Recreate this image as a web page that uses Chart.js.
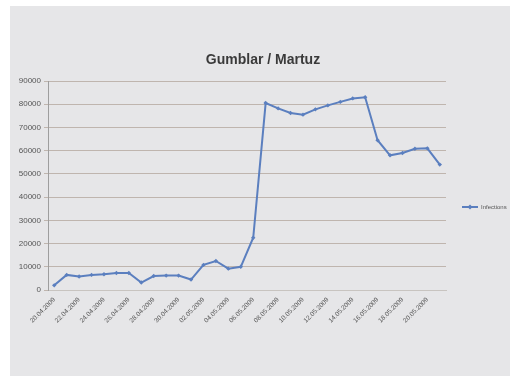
<!DOCTYPE html>
<html>
<head>
<meta charset="utf-8">
<script src="https://cdn.jsdelivr.net/npm/chart.js@4/dist/chart.umd.min.js"></script>
<style>
  html, body { margin: 0; padding: 0; background: #ffffff; }
  #wrap { position: relative; width: 513px; height: 376px; }
  canvas { display: block; }
</style>
</head>
<body>
<div id="wrap"><canvas id="lineChart" width="513" height="376"></canvas></div>
<script>
// chart data
var days = [
  '20.04.2009', '21.04.2009', '22.04.2009', '23.04.2009', '24.04.2009', '25.04.2009',
  '26.04.2009', '27.04.2009', '28.04.2009', '29.04.2009', '30.04.2009', '01.05.2009',
  '02.05.2009', '03.05.2009', '04.05.2009', '05.05.2009', '06.05.2009', '07.05.2009',
  '08.05.2009', '09.05.2009', '10.05.2009', '11.05.2009', '12.05.2009', '13.05.2009',
  '14.05.2009', '15.05.2009', '16.05.2009', '17.05.2009', '18.05.2009', '19.05.2009',
  '20.05.2009', '21.05.2009'
];
var infections = [
  2000, 6500, 5800, 6500, 6800, 7300, 7300, 3200, 6000, 6200, 6200, 4500,
  10800, 12500, 9200, 10000, 22500, 80500, 78200, 76200, 75500, 77800, 79500, 81000,
  82500, 83000, 64500, 58000, 59000, 60800, 61000, 54000
];
var yTicks = [0, 10000, 20000, 30000, 40000, 50000, 60000, 70000, 80000, 90000];
var seriesName = 'Infections';
var chartTitle = 'Gumblar / Martuz';

var lineColor = '#5b7fbf';

// grey frame behind the chart, title on top
var framePlugin = {
  id: 'frame',
  beforeDraw: function (chart) {
    var ctx = chart.ctx;
    ctx.save();
    ctx.fillStyle = '#e6e6e8';
    ctx.fillRect(10, 6, 500, 370);
    ctx.fillStyle = '#3a3a3a';
    ctx.font = 'bold 14px "Liberation Sans"';
    ctx.textAlign = 'center';
    ctx.textBaseline = 'middle';
    ctx.fillText(chartTitle, 263, 60);
    ctx.restore();
  }
};

// small Excel style legend to the right of the plot
var legendPlugin = {
  id: 'sideLegend',
  afterDraw: function (chart) {
    var ctx = chart.ctx;
    var ds = chart.data.datasets[0];
    var x = 462, y = 207;
    ctx.save();
    ctx.strokeStyle = ds.borderColor;
    ctx.lineWidth = 2;
    ctx.beginPath();
    ctx.moveTo(x, y);
    ctx.lineTo(x + 16, y);
    ctx.stroke();
    ctx.fillStyle = ds.borderColor;
    ctx.beginPath();
    ctx.moveTo(x + 8, y - 2.5);
    ctx.lineTo(x + 10.5, y);
    ctx.lineTo(x + 8, y + 2.5);
    ctx.lineTo(x + 5.5, y);
    ctx.closePath();
    ctx.fill();
    ctx.fillStyle = '#555555';
    ctx.font = '6px "Liberation Sans"';
    ctx.textBaseline = 'middle';
    ctx.fillText(ds.label, x + 19, y);
    ctx.restore();
  }
};

var ctx = document.getElementById('lineChart').getContext('2d');
var chart = new Chart(ctx, {
  type: 'line',
  data: {
    labels: days,
    datasets: [{
      label: seriesName,
      data: infections,
      borderColor: lineColor,
      backgroundColor: lineColor,
      borderWidth: 2,
      pointStyle: 'rectRot',
      pointRadius: 2.2,
      pointBorderWidth: 0,
      tension: 0,
      fill: false
    }]
  },
  options: {
    responsive: false,
    animation: false,
    layout: { padding: { left: 10, right: 67, top: 81, bottom: 0 } },
    plugins: {
      legend: { display: false },
      tooltip: { enabled: false },
      title: { display: false }
    },
    scales: {
      x: {
        offset: true,
        grid: { display: false, drawTicks: false },
        border: { color: '#c8c4c0', width: 1 },
        ticks: {
          autoSkip: false,
          maxRotation: 45,
          minRotation: 45,
          padding: 6,
          color: '#555555',
          font: { family: 'Liberation Sans', size: 6.5 },
          callback: function (val, i) { return i % 2 === 0 ? days[i] : ''; }
        },
        afterFit: function (scale) { scale.height = 86; }
      },
      y: {
        min: 0,
        max: 90000,
        afterBuildTicks: function (scale) {
          scale.ticks = yTicks.map(function (v) { return { value: v }; });
        },
        grid: { color: '#bfb5ae', lineWidth: 1, drawTicks: true, tickLength: 4 },
        border: { color: '#9e9e9e', width: 1 },
        ticks: {
          padding: 3,
          color: '#555555',
          font: { family: 'Liberation Sans', size: 8 },
          callback: function (v) { return String(v); }
        },
        afterFit: function (scale) { scale.width = 38; }
      }
    }
  },
  plugins: [framePlugin, legendPlugin]
});
</script>
</body>
</html>
